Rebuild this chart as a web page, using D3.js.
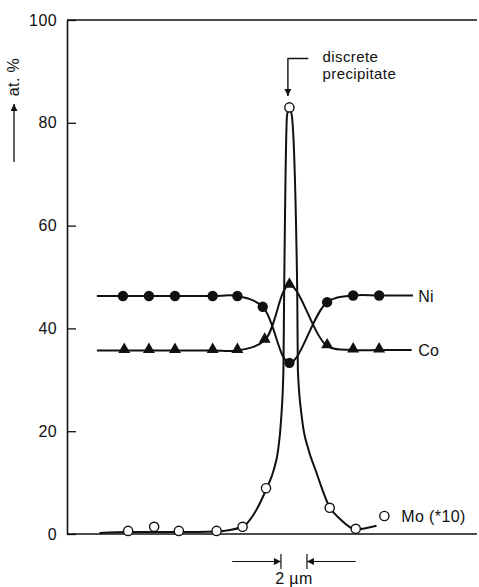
<!DOCTYPE html>
<html>
<head>
<meta charset="utf-8">
<script src="https://cdn.jsdelivr.net/npm/d3@7"></script>
<style>
  body { margin: 0; background: #fff; }
  text { font-family: "Liberation Sans", Arial, Helvetica, sans-serif; fill: #111; letter-spacing: 0.4px; }
</style>
</head>
<body>
<svg id="chart" width="479" height="587"></svg>
<script>
// Concentration profile across a discrete precipitate (x in µm, 0 = precipitate)

const yTickValues = [0, 20, 40, 60, 80, 100];

// measured points
const niX = [-12.8, -10.8, -8.8, -5.9, -4.0, -2.05, 0, 2.9, 4.9, 6.9];
const niY = [46.3, 46.3, 46.3, 46.3, 46.3, 44.2, 33.3, 45.1, 46.4, 46.4];

const coX = [-12.7, -10.8, -8.8, -5.9, -4.0, -1.9, 0, 2.9, 4.9, 6.9];
const coY = [35.7, 35.7, 35.7, 35.7, 35.7, 37.7, 48.4, 36.6, 35.8, 35.8];

const moX = [-12.4, -10.4, -8.5, -5.6, -3.6, -1.8, 0, 3.1, 5.1, 7.3];
const moY = [0.6, 1.4, 0.6, 0.6, 1.4, 8.9, 83, 5.1, 1.0, 3.5];

// where the drawn Ni / Co lines start and stop
const niLine = [-14.8, 9.5];
const coLine = [-14.8, 9.4];

// hand-fitted Mo curve
const moCurveX = [-14.6, -12.4, -8.5, -5.6, -3.6, -2.7, -1.75, -1.2, -0.87, -0.64, -0.46, -0.41, -0.18, 0,
                  0.18, 0.6, 0.65, 0.98, 1.48, 2.0, 3.1, 3.9, 5.1, 6.7];
const moCurveY = [0.2, 0.4, 0.4, 0.5, 1.4, 4.0, 8.9, 12.5, 16.3, 22.2, 31.9, 45.5, 81.5, 83,
                  81.5, 47.5, 31.9, 22.2, 16.3, 12.5, 5.2, 2.9, 0.9, 1.6];

// scale bar (2 µm)
const barTicks = [-0.65, 1.35];
const barArrowFrom = [-4.4, 5.1];

const svg = d3.select('#chart');

const x = d3.scaleLinear().domain([-17.1, 14.5]).range([67, 478]);
const y = d3.scaleLinear().domain([0, 100]).range([534, 20]);

const ink = '#111';

// ─── Axes ───────────────────────────────────────────────────────────────────

const yAxis = d3.axisLeft(y)
  .tickValues(yTickValues)
  .tickSizeInner(-9)
  .tickSizeOuter(0)
  .tickPadding(10)
  .tickFormat(d3.format('d'));

const gY = svg.append('g')
  .attr('transform', `translate(${x.range()[0]},0)`)
  .call(yAxis);
gY.select('.domain').attr('stroke', ink).attr('stroke-width', 1.6);
gY.selectAll('.tick line').attr('stroke', ink).attr('stroke-width', 1.3);
gY.selectAll('.tick text')
  .attr('font-size', 16)
  .attr('font-family', '"Liberation Sans", Arial, sans-serif')
  .attr('fill', ink);

// top frame + zero baseline
svg.append('line')
  .attr('x1', x.range()[0]).attr('x2', 477)
  .attr('y1', y(100)).attr('y2', y(100))
  .attr('stroke', ink).attr('stroke-width', 1.4);
svg.append('line')
  .attr('x1', x.range()[0]).attr('x2', 477)
  .attr('y1', y(0)).attr('y2', y(0))
  .attr('stroke', ink).attr('stroke-width', 1.5);

// arrowhead marker
const defs = svg.append('defs');
defs.append('marker')
  .attr('id', 'arrow')
  .attr('viewBox', '0 0 10 10')
  .attr('refX', 10).attr('refY', 5)
  .attr('markerWidth', 12).attr('markerHeight', 7)
  .attr('markerUnits', 'userSpaceOnUse')
  .attr('orient', 'auto')
  .append('path')
  .attr('d', 'M0,0L10,5L0,10Z')
  .attr('fill', ink);

// y label: "at. %" with an upward arrow
svg.append('text')
  .attr('transform', 'translate(19,77) rotate(-90)')
  .attr('text-anchor', 'middle')
  .attr('font-size', 16)
  .text('at. %');
svg.append('line')
  .attr('x1', 14).attr('x2', 14)
  .attr('y1', 162).attr('y2', 104)
  .attr('stroke', ink).attr('stroke-width', 1.3)
  .attr('marker-end', 'url(#arrow)');

// ─── Curves ─────────────────────────────────────────────────────────────────

const line = d3.line()
  .x(d => x(d[0]))
  .y(d => y(d[1]))
  .curve(d3.curveCatmullRom.alpha(0.5));

const moLine = d3.line()
  .x(d => x(d[0]))
  .y(d => y(d[1]))
  .curve(d3.curveMonotoneX);

const zip = (xs, ys) => xs.map((v, i) => [v, ys[i]]);

const niPts = zip(niX, niY);
const coPts = zip(coX, coY);
const moPts = zip(moX, moY);

const niPath = [[niLine[0], niY[0]], ...niPts, [niLine[1], niY[niY.length - 1]]];
const coPath = [[coLine[0], coY[0]], ...coPts, [coLine[1], coY[coY.length - 1]]];
const moPath = zip(moCurveX, moCurveY);

const gLines = svg.append('g')
  .attr('fill', 'none')
  .attr('stroke', ink)
  .attr('stroke-width', 2)
  .attr('stroke-linejoin', 'round');

gLines.selectAll('path.nc')
  .data([niPath, coPath])
  .join('path')
  .attr('class', 'nc')
  .attr('d', line);

gLines.append('path')
  .attr('d', moLine(moPath));

// ─── Markers ────────────────────────────────────────────────────────────────

svg.append('g')
  .selectAll('circle')
  .data(niPts)
  .join('circle')
  .attr('cx', d => x(d[0]))
  .attr('cy', d => y(d[1]))
  .attr('r', 5.2)
  .attr('fill', ink);

const tri = d3.symbol().type(d3.symbolTriangle).size(62);
svg.append('g')
  .selectAll('path')
  .data(coPts)
  .join('path')
  .attr('transform', d => `translate(${x(d[0])},${y(d[1]) - 1})`)
  .attr('d', tri)
  .attr('fill', ink);

svg.append('g')
  .selectAll('circle')
  .data(moPts)
  .join('circle')
  .attr('cx', d => x(d[0]))
  .attr('cy', d => y(d[1]))
  .attr('r', 4.6)
  .attr('fill', '#fff')
  .attr('stroke', ink)
  .attr('stroke-width', 1.4);

// ─── Labels ─────────────────────────────────────────────────────────────────

const labels = [
  { text: 'Ni', x: 9.9, y: 46.3 },
  { text: 'Co', x: 9.9, y: 35.7 },
  { text: 'Mo (*10)', x: 8.6, y: 3.5 },
];
svg.append('g')
  .selectAll('text')
  .data(labels)
  .join('text')
  .attr('x', d => x(d.x))
  .attr('y', d => y(d.y))
  .attr('dy', '0.36em')
  .attr('font-size', 16)
  .text(d => d.text);

// "discrete precipitate" callout
const peakX = x(0) - 1.5;
svg.append('path')
  .attr('d', `M${x(1.45)},58.5H${peakX}V96`)
  .attr('fill', 'none')
  .attr('stroke', ink)
  .attr('stroke-width', 1.4)
  .attr('marker-end', 'url(#arrow)');
svg.append('text')
  .attr('x', x(2.55)).attr('y', 62)
  .attr('font-size', 15)
  .text('discrete');
svg.append('text')
  .attr('x', x(2.55)).attr('y', 79)
  .attr('font-size', 15)
  .text('precipitate');

// 2 µm scale bar
const barY = 561.5;
svg.append('g')
  .selectAll('line')
  .data(barTicks)
  .join('line')
  .attr('x1', d => x(d)).attr('x2', d => x(d))
  .attr('y1', 554).attr('y2', 569)
  .attr('stroke', ink).attr('stroke-width', 1.2);
svg.append('g')
  .selectAll('line')
  .data(barTicks.map((t, i) => [barArrowFrom[i], t]))
  .join('line')
  .attr('x1', d => x(d[0])).attr('x2', d => x(d[1]))
  .attr('y1', barY).attr('y2', barY)
  .attr('stroke', ink).attr('stroke-width', 1.2)
  .attr('marker-end', 'url(#arrow)');
svg.append('text')
  .attr('x', (x(barTicks[0]) + x(barTicks[1])) / 2)
  .attr('y', 584)
  .attr('text-anchor', 'middle')
  .attr('font-size', 16)
  .text('2 µm');
</script>
</body>
</html>
